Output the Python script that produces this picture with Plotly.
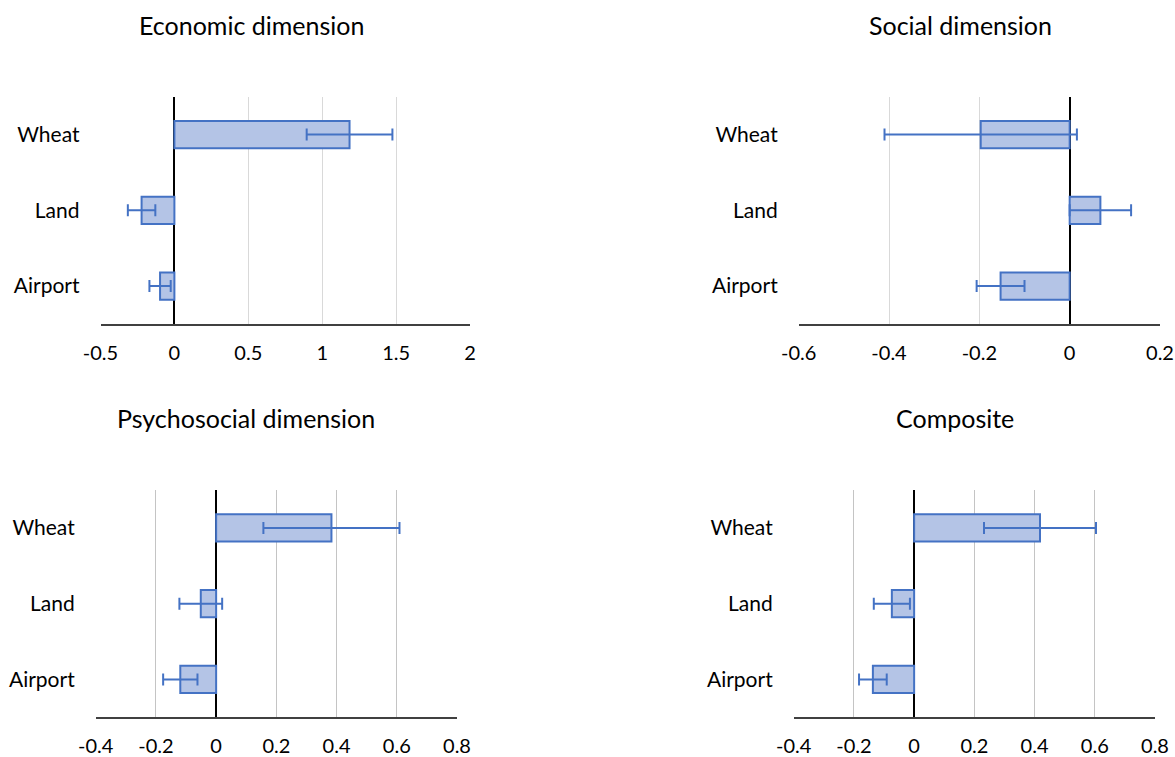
import plotly.graph_objects as go
from plotly.subplots import make_subplots

categories = ["Wheat", "Land", "Airport"]

titles = ["Economic dimension", "Social dimension", "Psychosocial dimension", "Composite"]

economic_values = [1.185, -0.222, -0.097]
economic_errors = [0.29, 0.093, 0.072]

social_values = [-0.197, 0.068, -0.153]
social_errors = [0.213, 0.068, 0.053]

psychosocial_values = [0.383, -0.051, -0.119]
psychosocial_errors = [0.226, 0.071, 0.057]

composite_values = [0.418, -0.074, -0.137]
composite_errors = [0.186, 0.060, 0.046]

economic_ticks = [-0.5, 0, 0.5, 1, 1.5, 2]
economic_ticktext = ["-0.5", "0", "0.5", "1", "1.5", "2"]
social_ticks = [-0.6, -0.4, -0.2, 0, 0.2]
social_ticktext = ["-0.6", "-0.4", "-0.2", "0", "0.2"]
psycho_ticks = [-0.4, -0.2, 0, 0.2, 0.4, 0.6, 0.8]
psycho_ticktext = ["-0.4", "-0.2", "0", "0.2", "0.4", "0.6", "0.8"]

W, H = 1175, 757
FONT = "Lato"
BAR_FILL = "#B4C4E6"
BAR_LINE = "#4472C4"

panels = [
    dict(vals=economic_values, errs=economic_errors, rng=[-0.5, 2], tv=economic_ticks, tt=economic_ticktext,
         xd=[100.5, 470], yd=[96.7, 324], grid="#D9D9D9", title_xy=(251, 25)),
    dict(vals=social_values, errs=social_errors, rng=[-0.6, 0.2], tv=social_ticks, tt=social_ticktext,
         xd=[798.7, 1160], yd=[96.7, 324], grid="#D9D9D9", title_xy=(960, 25)),
    dict(vals=psychosocial_values, errs=psychosocial_errors, rng=[-0.4, 0.8], tv=psycho_ticks, tt=psycho_ticktext,
         xd=[95.7, 457], yd=[490, 717.3], grid="#C4C4C4", title_xy=(246, 418)),
    dict(vals=composite_values, errs=composite_errors, rng=[-0.4, 0.8], tv=psycho_ticks, tt=psycho_ticktext,
         xd=[793.7, 1155], yd=[490, 717.3], grid="#C4C4C4", title_xy=(955, 418)),
]

fig = make_subplots(rows=2, cols=2)

for i, p in enumerate(panels):
    r, c = i // 2 + 1, i % 2 + 1
    fig.add_trace(
        go.Bar(
            orientation="h",
            x=p["vals"],
            y=categories,
            width=0.36,
            marker=dict(color=BAR_FILL, line=dict(color=BAR_LINE, width=2)),
            error_x=dict(type="data", array=p["errs"], symmetric=True,
                         color=BAR_LINE, thickness=2, width=6),
            showlegend=False,
            hoverinfo="x+y",
        ),
        row=r, col=c,
    )
    n = "" if i == 0 else str(i + 1)
    fig.layout["xaxis" + n].update(
        domain=[p["xd"][0] / W, p["xd"][1] / W],
        range=p["rng"],
        tickvals=p["tv"],
        ticktext=p["tt"],
        showgrid=True,
        gridcolor=p["grid"],
        gridwidth=1,
        zeroline=True,
        zerolinecolor="#000000",
        zerolinewidth=1.5,
        showline=True,
        linecolor="#404040",
        linewidth=2,
        ticks="",
        ticklabelstandoff=10,
        automargin=False,
        tickfont=dict(family=FONT, size=20, color="#000000"),
        fixedrange=True,
    )
    fig.layout["yaxis" + n].update(
        domain=[1 - p["yd"][1] / H, 1 - p["yd"][0] / H],
        autorange="reversed",
        showgrid=False,
        zeroline=False,
        showline=False,
        ticks="",
        ticklabelstandoff=20,
        automargin=False,
        tickfont=dict(family=FONT, size=21, color="#000000"),
        fixedrange=True,
    )
    fig.add_annotation(
        text=titles[i],
        x=p["title_xy"][0] / W, y=1 - p["title_xy"][1] / H,
        xref="paper", yref="paper",
        xanchor="center", yanchor="middle",
        showarrow=False,
        font=dict(family=FONT, size=25, color="#000000"),
    )

fig.update_layout(
    width=W, height=H,
    margin=dict(l=0, r=0, t=0, b=0),
    paper_bgcolor="white",
    plot_bgcolor="white",
    bargap=0.64,
)

fig.write_html("out.html")
